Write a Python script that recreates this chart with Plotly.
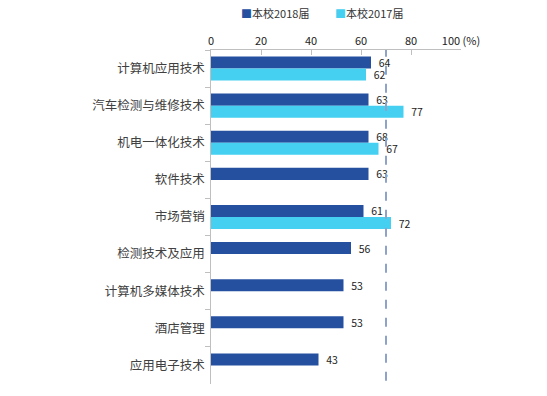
import plotly.graph_objects as go

categories = ["计算机应用技术", "汽车检测与维修技术", "机电一体化技术", "软件技术",
              "市场营销", "检测技术及应用", "计算机多媒体技术", "酒店管理", "应用电子技术"]
series_2018_name = "本校2018届"
series_2017_name = "本校2017届"
values_2018 = [64, 63, 63, 63, 61, 56, 53, 53, 43]
labels_2018 = ["64", "63", "68", "63", "61", "56", "53", "53", "43"]
values_2017 = [62, 77, 67, None, 72, None, None, None, None]
labels_2017 = ["62", "77", "67", "", "72", "", "", "", ""]
reference_line = [70]
tick_values = [0, 20, 40, 60, 80, 100]
tick_labels = ["0", "20", "40", "60", "80", "100 (%)"]

C2018 = "#2550A0"
C2017 = "#45D0F2"
FONT = "Noto Sans CJK SC, Microsoft YaHei, sans-serif"

fig = go.Figure()
fig.add_trace(go.Bar(
    y=categories, x=values_2018, name=series_2018_name, orientation="h",
    marker=dict(color=C2018, line=dict(width=0)),
    text=labels_2018, texttemplate="  %{text}", textposition="outside",
    cliponaxis=False, constraintext="none",
    textfont=dict(size=10.5, color="#222222", family=FONT),
))
fig.add_trace(go.Bar(
    y=categories, x=values_2017, name=series_2017_name, orientation="h",
    marker=dict(color=C2017, line=dict(width=0)),
    text=labels_2017, texttemplate="  %{text}", textposition="outside",
    cliponaxis=False, constraintext="none",
    textfont=dict(size=10.5, color="#222222", family=FONT),
))

for v in reference_line:
    fig.add_shape(type="line", xref="x", yref="paper", x0=v, x1=v, y0=0.01, y1=1,
                  line=dict(color="#8FA3C8", width=2, dash="dash"), layer="above")

legend_items = [(series_2018_name, C2018, 0.111), (series_2017_name, C2017, 0.486)]
for name, col, xp in legend_items:
    fig.add_annotation(
        xref="paper", yref="paper", x=xp, y=1.0, yshift=37, xanchor="left", yanchor="middle",
        showarrow=False,
        text=f"<span style='color:{col}'>■</span>{name}",
        font=dict(size=11, color="#333333", family=FONT),
    )

fig.update_layout(
    width=547, height=396,
    margin=dict(l=211, r=86, t=50, b=12, autoexpand=False),
    paper_bgcolor="white", plot_bgcolor="white",
    barmode="group", bargap=0.35, bargroupgap=0,
    font=dict(family=FONT, size=11, color="#333333"),
    showlegend=False,
    xaxis=dict(side="top", range=[0, 100], tickvals=tick_values, ticktext=tick_labels,
               showgrid=False, zeroline=False, showline=True, linecolor="#BFBFBF",
               linewidth=1, ticks="inside", ticklen=5, tickcolor="#BFBFBF",
               tickfont=dict(size=11, color="#222222"), automargin=False),
    yaxis=dict(autorange="reversed", showgrid=False, showline=True, linecolor="#BFBFBF",
               linewidth=1, ticks="outside", ticklen=5, tickcolor="#BFBFBF",
               tickson="boundaries", tickfont=dict(size=12.5, color="#404040"),
               ticksuffix=" ", automargin=False),
)

fig.write_html("out.html", config={"displayModeBar": False},
               post_script="document.body.style.margin='0';")
